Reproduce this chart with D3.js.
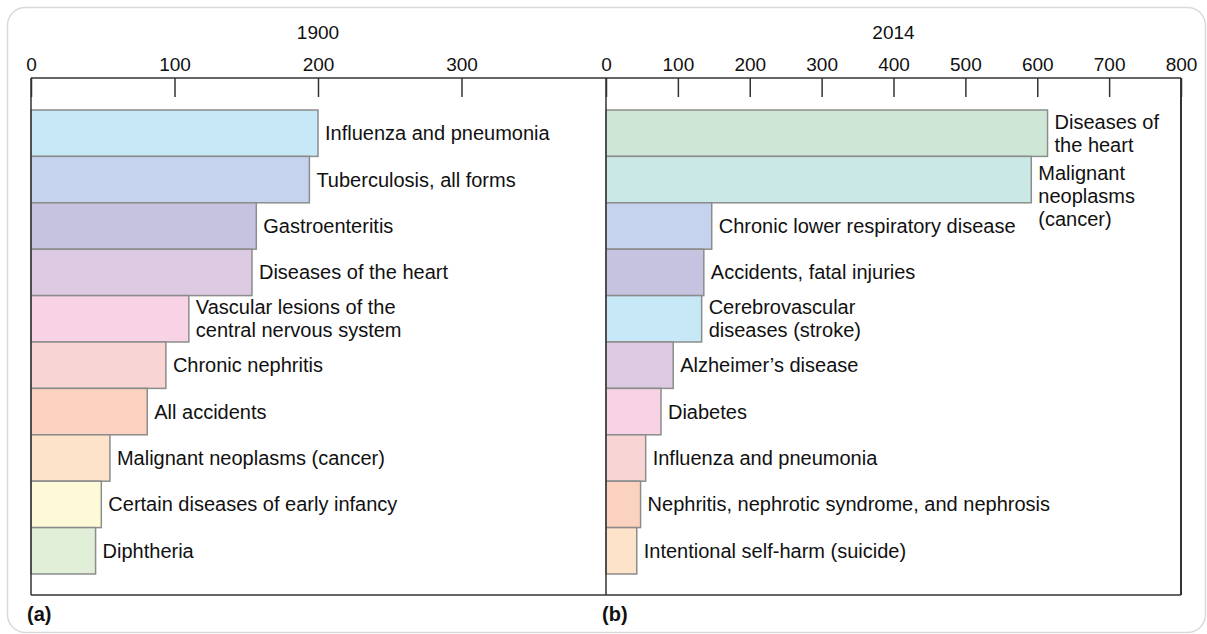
<!DOCTYPE html>
<html>
<head>
<meta charset="utf-8">
<script src="https://cdn.jsdelivr.net/npm/d3@7"></script>
<style>
  body { margin: 0; background: #fff; }
  svg text { font-family: "Liberation Sans", Arial, Helvetica, sans-serif; fill: #111; }
</style>
</head>
<body>
<div id="chart"></div>
<script>
// Leading causes of death, rate per 100,000
var causes1900 = [
  "Influenza and pneumonia",
  "Tuberculosis, all forms",
  "Gastroenteritis",
  "Diseases of the heart",
  "Vascular lesions of the\ncentral nervous system",
  "Chronic nephritis",
  "All accidents",
  "Malignant neoplasms (cancer)",
  "Certain diseases of early infancy",
  "Diphtheria"
];
var rates1900 = [200, 194, 157, 154, 110, 94, 81, 55, 49, 45];
var colors1900 = ["#c6e8f7", "#c6d3ee", "#c6c3e1", "#dccae3", "#f8d3e6",
                  "#f9d4d4", "#fbd2c0", "#fde3c9", "#fefad8", "#e2efd8"];

var causes2014 = [
  "Diseases of\nthe heart",
  "Malignant\nneoplasms\n(cancer)",
  "Chronic lower respiratory disease",
  "Accidents, fatal injuries",
  "Cerebrovascular\ndiseases (stroke)",
  "Alzheimer\u2019s disease",
  "Diabetes",
  "Influenza and pneumonia",
  "Nephritis, nephrotic syndrome, and nephrosis",
  "Intentional self-harm (suicide)"
];
var rates2014 = [614.3, 591.7, 147.1, 136.1, 133.1, 93.5, 76.5, 55.2, 48.1, 42.8];
var colors2014 = ["#cee6d6", "#c9e8e6", "#c6d3ee", "#c6c3e1", "#c6e8f7",
                  "#dccae3", "#f8d3e6", "#f9d4d4", "#fbd2c0", "#fde3c9"];

var ticks1900 = [0, 100, 200, 300];
var ticks2014 = [0, 100, 200, 300, 400, 500, 600, 700, 800];

var width = 1207, height = 634;
var plotTop = 78, plotBottom = 595;
var fs = 20, tickFs = 19, lineH = 23.3;

var svg = d3.select("#chart")
  .append("svg")
  .attr("width", width)
  .attr("height", height);

// rounded outer card
svg.append("rect")
  .attr("x", 7.5).attr("y", 7.5)
  .attr("width", 1198).attr("height", 625)
  .attr("rx", 18)
  .attr("fill", "none")
  .attr("stroke", "#dadada")
  .attr("stroke-width", 1.5);

var y = d3.scaleBand()
  .domain(d3.range(10))
  .range([110, 574])
  .padding(0);

function drawPanel(opts) {
  var x = d3.scaleLinear().domain(opts.domain).range(opts.range);
  var g = svg.append("g");

  // bars
  g.selectAll("rect.bar")
    .data(opts.values)
    .enter()
    .append("rect")
    .attr("class", "bar")
    .attr("x", x(0))
    .attr("y", function(d, i) { return y(i); })
    .attr("width", function(d) { return x(d) - x(0); })
    .attr("height", y.bandwidth())
    .attr("fill", function(d, i) { return opts.colors[i]; })
    .attr("stroke", "#8c8c8c")
    .attr("stroke-width", 1.5);

  // labels, multi-line ones split on \n
  var labels = g.selectAll("text.label")
    .data(opts.values)
    .enter()
    .append("text")
    .attr("class", "label")
    .attr("font-size", fs);

  labels.each(function(d, i) {
    var lines = opts.names[i].split("\n");
    var n = lines.length;
    var center = y(i) + y.bandwidth() / 2;
    // the 3-line label is pushed down so it clears the one above
    var first = n > 2 ? center : center - (n - 1) * lineH / 2 + fs * 0.35;
    var t = d3.select(this);
    lines.forEach(function(line, k) {
      t.append("tspan")
        .attr("x", x(d) + 7)
        .attr("y", first + k * lineH)
        .text(line);
    });
  });

  // top axis, ticks pointing down into the plot
  var axis = d3.axisTop(x)
    .tickValues(opts.ticks)
    .tickSizeInner(-19)
    .tickSizeOuter(0)
    .tickPadding(7)
    .tickFormat(d3.format("d"));

  var ax = g.append("g")
    .attr("transform", "translate(0," + plotTop + ")")
    .call(axis);
  ax.select(".domain").remove();
  ax.selectAll(".tick line").attr("stroke", "#333").attr("stroke-width", 1.5);
  ax.selectAll(".tick text")
    .attr("font-size", tickFs)
    .attr("font-family", null)
    .attr("fill", "#111");

  // panel year title
  g.append("text")
    .attr("x", (opts.range[0] + opts.range[1]) / 2)
    .attr("y", 39)
    .attr("text-anchor", "middle")
    .attr("font-size", tickFs)
    .text(opts.title);

  // panel letter
  g.append("text")
    .attr("x", opts.range[0] - 4)
    .attr("y", 621)
    .attr("font-size", 20)
    .attr("font-weight", "bold")
    .text(opts.letter);

  return x;
}

var x1900 = drawPanel({
  domain: [0, 400], range: [31, 605],
  values: rates1900, names: causes1900, colors: colors1900,
  ticks: ticks1900, title: "1900", letter: "(a)"
});

var x2014 = drawPanel({
  domain: [0, 800], range: [606, 1181],
  values: rates2014, names: causes2014, colors: colors2014,
  ticks: ticks2014, title: "2014", letter: "(b)"
});

// frame around both panels
var frame = svg.append("g")
  .attr("stroke", "#333")
  .attr("stroke-width", 1.5)
  .attr("fill", "none");

frame.append("line").attr("x1", x1900(0)).attr("x2", x2014(800)).attr("y1", plotTop).attr("y2", plotTop);
frame.append("line").attr("x1", x1900(0)).attr("x2", x2014(800)).attr("y1", plotBottom).attr("y2", plotBottom);
frame.append("line").attr("x1", x1900(0)).attr("x2", x1900(0)).attr("y1", plotTop).attr("y2", plotBottom);
frame.append("line").attr("x1", x2014(0)).attr("x2", x2014(0)).attr("y1", plotTop).attr("y2", plotBottom);
frame.append("line").attr("x1", x2014(800)).attr("x2", x2014(800)).attr("y1", plotTop).attr("y2", plotBottom)
  .attr("stroke-width", 2);
</script>
</body>
</html>
